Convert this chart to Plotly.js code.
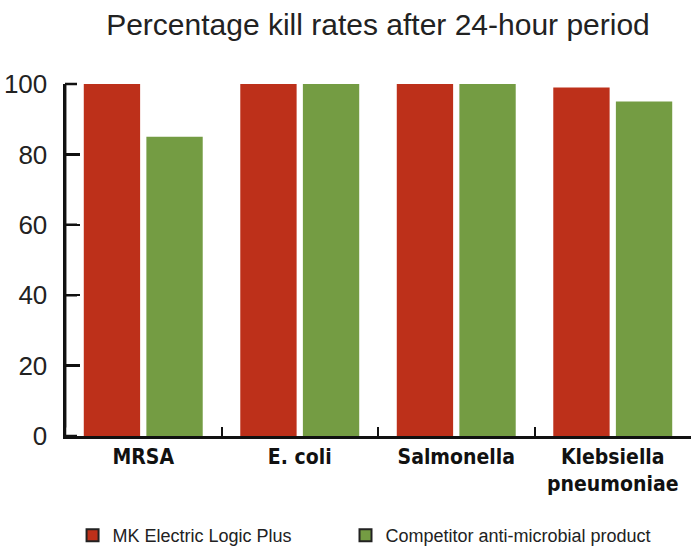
<!DOCTYPE html>
<html>
<head>
<meta charset="utf-8">
<script src="https://cdn.plot.ly/plotly-3.0.1.min.js"></script>
<style>
html,body{margin:0;padding:0;background:#fff;}
#chart{width:691px;height:546px;}
</style>
</head>
<body>
<div id="chart"></div>
<script>
const categories = ["MRSA", "E. coli", "Salmonella", "Klebsiella<br>pneumoniae"];
const seriesNames = ["MK Electric Logic Plus", "Competitor anti-microbial product"];
const mkValues = [100, 100, 100, 99];
const competitorValues = [85, 100, 100, 95];
const yTicks = [0, 20, 40, 60, 80, 100];
const yTickText = ["0", "20", "40", "60", "80", "100"];
const colors = ["#bd301a", "#749c43"];

const traces = [
  {type: "bar", x: categories, y: mkValues, name: seriesNames[0], offsetgroup: "a",
   marker: {color: colors[0]}, showlegend: false},
  {type: "bar", x: categories, y: competitorValues, name: seriesNames[1], offsetgroup: "b",
   marker: {color: colors[1]}, showlegend: false},
  {type: "bar", x: [categories[0]], y: [null], name: seriesNames[0], offsetgroup: "a", legend: "legend",
   marker: {color: colors[0], line: {color: "#222", width: 2}}},
  {type: "bar", x: [categories[0]], y: [null], name: seriesNames[1], offsetgroup: "b", legend: "legend2",
   marker: {color: colors[1], line: {color: "#222", width: 2}}}
];

const legendFont = {family: "Liberation Sans, Arial, sans-serif", size: 18, color: "#222"};

// axis line and inward ticks drawn as arrow-only annotations (backup for the y axis line)
const axisAnnotations = [
  {xref: "paper", yref: "paper", x: 0, y: 1, ax: 0, ay: 352, text: " ", showarrow: true,
   arrowhead: 0, arrowwidth: 2.5, arrowcolor: "#111", standoff: 0, startstandoff: 0}
].concat(yTicks.map(v => ({
  xref: "paper", yref: "y", x: 0, y: v, ax: 15, ay: 0, text: " ", showarrow: true,
  arrowhead: 0, arrowwidth: 2.5, arrowcolor: "#111", standoff: 0, startstandoff: 0
})));

const layout = {
  width: 691, height: 546,
  margin: {l: 65, r: 0, t: 84, b: 110, autoexpand: false},
  paper_bgcolor: "#fff", plot_bgcolor: "#fff",
  barmode: "group", bargap: 0.2, bargroupgap: 0.1,
  title: {text: "Percentage kill rates after 24-hour period", x: 0.547, xanchor: "center", y: 0.955, yanchor: "middle",
          font: {family: "Liberation Sans, Arial, sans-serif", size: 30, color: "#222"}},
  font: {family: "Liberation Sans, Arial, sans-serif", color: "#222"},
  xaxis: {
    type: "category", range: [-0.5, 3.5], showline: true, linecolor: "#111", linewidth: 2.5,
    ticks: "inside", tickson: "boundaries", ticklen: 9, tickwidth: 2, tickcolor: "#111",
    showgrid: false, zeroline: false, fixedrange: true, tickangle: 0, automargin: false,
    tickfont: {family: "Liberation Sans Narrow, DejaVu Sans Condensed, Arial Narrow, sans-serif", size: 21, color: "#111", weight: "bold"}
  },
  yaxis: {
    range: [0, 100], tickmode: "array", tickvals: yTicks, ticktext: yTickText, showline: true, linecolor: "#111", linewidth: 2.5,
    ticks: "inside", ticklen: 15, tickwidth: 2.5, tickcolor: "#111",
    showgrid: false, zeroline: false, fixedrange: true, automargin: false, ticklabelstandoff: 10,
    tickfont: {family: "Liberation Sans, Arial, sans-serif", size: 26, color: "#222"}
  },
  shapes: [
    {type: "line", xref: "paper", yref: "paper", x0: 0, x1: 0, y0: 0, y1: 1, layer: "above",
     line: {color: "#111", width: 2.5}}
  ],
  annotations: axisAnnotations,
  legend: {
    orientation: "h", xref: "container", x: 0.105, yref: "container", y: 0.053, xanchor: "left", yanchor: "top",
    font: legendFont, itemwidth: 30, bgcolor: "rgba(0,0,0,0)"
  },
  legend2: {
    orientation: "h", xref: "container", x: 0.5, yref: "container", y: 0.053, xanchor: "left", yanchor: "top",
    font: legendFont, itemwidth: 30, bgcolor: "rgba(0,0,0,0)"
  }
};

Plotly.newPlot("chart", traces, layout, {displayModeBar: false, staticPlot: true});
</script>
</body>
</html>
